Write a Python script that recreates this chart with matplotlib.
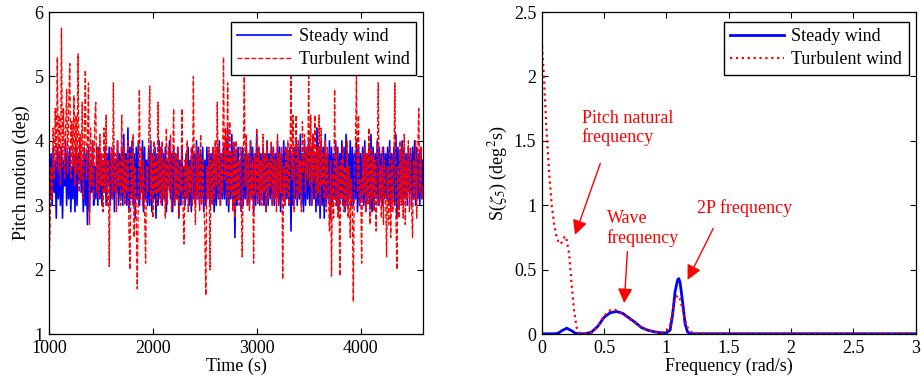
import numpy as np
import matplotlib
matplotlib.use('Agg')
import matplotlib.pyplot as plt

plt.rcParams['font.family'] = ['Liberation Serif', 'DejaVu Serif']
plt.rcParams['mathtext.fontset'] = 'stix'
plt.rcParams['font.size'] = 13

# ---- left panel: pitch motion time series (sampled every 10 s, 1000-4600 s)
t_start, t_step = 1000, 10
steady_pitch = [
    3.9, 3.1, 3.8, 3.0, 3.9, 3.2, 3.7, 2.8, 3.9, 3.1, 3.8, 3.0,
    3.9, 2.8, 3.7, 3.3, 4.0, 3.0, 3.8, 3.1, 3.9, 2.9, 3.6, 3.1,
    3.8, 2.9, 3.9, 3.0, 3.8, 3.4, 4.0, 3.2, 3.7, 2.9, 3.9, 3.0,
    3.8, 2.7, 3.9, 2.9, 3.7, 3.2, 4.0, 3.0, 3.6, 3.1, 3.9, 3.0,
    3.9, 3.1, 3.8, 3.0, 3.7, 3.2, 3.9, 3.0, 3.8, 3.3, 3.9, 3.0,
    3.8, 3.1, 3.9, 2.9, 3.7, 3.2, 4.0, 3.0, 3.8, 3.1, 3.9, 3.0,
    4.1, 3.1, 3.8, 3.0, 4.2, 2.9, 3.9, 3.1, 4.0, 3.0, 3.8, 2.8,
    3.9, 3.1, 4.0, 3.0, 3.6, 3.2, 4.0, 2.9, 3.9, 3.1, 3.7, 3.0,
    3.9, 3.0, 4.0, 2.9, 3.8, 3.1, 3.9, 2.8, 3.8, 3.0, 4.0, 3.1,
    3.9, 3.0, 3.8, 3.1, 3.9, 2.9, 3.7, 3.3, 4.0, 3.1, 3.8, 2.9,
    3.9, 3.0, 3.8, 3.1, 3.9, 2.8, 3.7, 3.0, 3.9, 3.1, 3.6, 3.0,
    3.8, 3.1, 3.9, 3.0, 3.7, 2.9, 3.9, 3.1, 3.8, 3.0, 4.0, 3.1,
    3.9, 3.0, 3.8, 3.1, 3.9, 2.9, 3.7, 3.0, 3.9, 3.1, 3.8, 3.0,
    3.8, 3.1, 3.9, 2.9, 3.8, 3.0, 3.9, 3.1, 4.0, 3.0, 3.8, 3.1,
    3.9, 3.1, 4.0, 3.0, 4.2, 2.9, 3.8, 3.1, 4.1, 3.0, 3.9, 2.5,
    3.8, 3.0, 3.9, 3.1, 3.7, 2.9, 3.9, 3.0, 3.8, 3.1, 3.9, 3.0,
    3.8, 3.0, 4.0, 3.1, 3.9, 2.9, 3.8, 3.0, 4.1, 3.1, 3.9, 3.0,
    3.8, 3.1, 3.9, 3.0, 3.8, 2.9, 4.0, 3.0, 3.8, 3.1, 3.9, 3.0,
    3.9, 3.0, 3.8, 3.1, 4.0, 3.0, 3.9, 2.9, 3.8, 3.1, 4.0, 3.0,
    3.9, 3.1, 3.8, 3.0, 3.9, 2.6, 3.8, 3.0, 3.9, 3.1, 4.0, 3.0,
    3.9, 3.1, 4.1, 3.0, 3.8, 2.9, 4.0, 3.0, 3.9, 3.1, 4.0, 3.0,
    3.9, 3.0, 4.1, 3.1, 3.8, 2.9, 4.2, 3.0, 3.9, 2.8, 4.0, 3.0,
    3.9, 2.8, 4.1, 3.0, 3.8, 3.1, 4.0, 2.8, 3.9, 3.0, 3.8, 3.1,
    4.0, 3.0, 3.9, 2.9, 3.8, 3.1, 4.0, 3.0, 3.9, 2.9, 4.1, 3.0,
    3.8, 3.1, 4.0, 3.0, 3.9, 3.0, 3.8, 3.1, 4.0, 2.9, 3.9, 3.0,
    3.8, 3.1, 3.9, 3.0, 4.0, 2.9, 3.8, 3.1, 3.9, 3.0, 4.1, 2.9,
    3.9, 3.0, 3.8, 3.1, 4.0, 3.0, 3.9, 3.1, 3.8, 3.0, 3.9, 3.1,
    3.8, 3.1, 3.9, 3.0, 4.0, 2.9, 3.8, 3.1, 3.9, 3.0, 4.1, 2.8,
    3.9, 3.0, 3.8, 3.1, 4.0, 3.0, 3.9, 3.1, 3.8, 3.0, 3.9, 3.2,
    3.8, 3.0, 3.9, 3.1, 4.0, 3.0, 3.9, 3.1, 3.8, 3.0, 3.9, 3.1,
    3.7,
]
turbulent_pitch = [
    2.1, 2.6, 3.6, 3.1, 4.2, 3.4, 4.5, 3.6, 5.3, 3.5, 4.4, 3.3,
    5.75, 3.6, 4.5, 3.4, 4.2, 4.8, 3.5, 4.6, 5.2, 3.4, 4.3, 3.6,
    4.7, 3.3, 4.4, 3.5, 5.35, 3.2, 4.1, 3.4, 4.6, 3.1, 4.0, 5.1,
    3.4, 3.9, 4.9, 2.7, 4.2, 3.3, 4.0, 3.1, 4.3, 4.6, 3.2, 3.9,
    3.1, 4.1, 3.3, 3.8, 2.9, 4.2, 3.2, 4.4, 3.0, 3.7, 2.05, 3.6,
    3.9, 3.1, 4.9, 3.2, 3.8, 2.9, 4.0, 3.3, 3.7, 3.0, 4.4, 3.2,
    3.9, 3.0, 3.7, 3.2, 4.0, 2.6, 2.0, 3.8, 3.1, 4.1, 2.5, 3.6,
    2.8, 1.7, 3.3, 4.8, 3.1, 3.9, 3.0, 3.7, 2.9, 2.1, 3.6, 3.2,
    4.0, 4.85, 3.1, 3.8, 2.8, 4.0, 3.2, 3.7, 3.0, 4.6, 3.2, 3.9,
    3.0, 4.0, 3.1, 3.7, 2.8, 4.2, 3.0, 3.9, 3.2, 4.1, 2.9, 3.6,
    4.5, 3.0, 3.8, 3.1, 3.9, 2.8, 3.6, 3.2, 4.5, 3.0, 2.4, 3.7,
    3.1, 4.0, 2.9, 3.6, 3.2, 3.9, 3.0, 5.0, 3.3, 2.7, 3.9, 3.1,
    3.8, 2.9, 4.1, 3.0, 3.7, 3.2, 2.6, 1.6, 3.6, 3.1, 3.9, 2.0,
    3.7, 3.0, 3.9, 3.1, 4.0, 3.3, 4.6, 3.1, 3.9, 3.0, 3.8, 3.2,
    5.3, 3.4, 4.2, 3.1, 4.9, 3.0, 4.3, 3.2, 3.8, 2.9, 4.0, 2.8,
    4.0, 3.1, 3.7, 3.0, 3.9, 3.2, 2.2, 3.6, 5.0, 3.3, 4.1, 3.0,
    3.8, 2.9, 4.0, 3.1, 3.7, 2.1, 3.8, 3.2, 4.2, 3.0, 3.9, 3.1,
    3.7, 3.0, 4.1, 3.2, 3.8, 2.9, 4.0, 3.1, 3.7, 3.3, 4.0, 3.0,
    3.9, 3.1, 3.7, 2.9, 4.1, 3.0, 3.8, 3.2, 3.9, 1.85, 3.6, 3.0,
    3.9, 3.2, 4.0, 3.0, 3.7, 5.0, 3.4, 4.4, 2.9, 3.8, 4.4, 3.1,
    4.0, 3.2, 3.7, 2.9, 4.3, 3.5, 4.1, 3.2, 3.9, 3.4, 5.0, 3.3,
    4.4, 3.0, 4.1, 3.4, 4.4, 3.1, 3.9, 3.2, 4.4, 3.0, 4.2, 3.3,
    3.8, 3.1, 4.0, 2.9, 3.9, 3.2, 2.6, 3.7, 1.9, 3.5, 2.8, 4.8,
    3.0, 3.9, 2.8, 3.6, 1.9, 3.7, 3.1, 3.9, 2.9, 3.6, 3.0, 4.0,
    2.8, 3.6, 2.5, 3.4, 3.0, 1.5, 3.6, 3.9, 5.0, 3.2, 4.4, 3.0,
    3.4, 2.1, 3.8, 3.2, 3.9, 2.9, 3.8, 3.0, 4.2, 2.7, 3.9, 3.1,
    3.8, 2.9, 3.7, 2.6, 3.8, 4.9, 3.0, 3.6, 2.8, 3.9, 2.7, 3.7,
    3.2, 2.2, 3.6, 2.7, 3.9, 2.5, 3.7, 2.9, 3.6, 4.9, 2.8, 2.0,
    3.6, 2.8, 4.0, 3.0, 3.9, 2.8, 4.1, 2.7, 3.7, 3.1, 4.0, 2.9,
    3.9, 3.0, 2.5, 3.7, 3.1, 4.0, 2.8, 3.8, 4.5, 3.2, 3.9, 3.1,
    3.3,
]
time_s = t_start + t_step * np.arange(len(steady_pitch))

# ---- right panel: pitch response spectra
freq_steady = [0, 0.10, 0.13, 0.16, 0.20, 0.24, 0.27, 0.30, 0.35, 0.40, 0.45,
               0.50, 0.55, 0.60, 0.65, 0.70, 0.75, 0.80, 0.85, 0.90, 0.95,
               1.00, 1.03, 1.05, 1.07, 1.09, 1.10, 1.11, 1.13, 1.15, 1.17,
               1.20, 1.5, 2.0, 3.0]
spec_steady = [0.002, 0.002, 0.005, 0.025, 0.045, 0.025, 0.006, 0.002, 0.002,
               0.015, 0.06, 0.13, 0.165, 0.175, 0.16, 0.125, 0.09, 0.05, 0.03,
               0.018, 0.01, 0.008, 0.03, 0.15, 0.33, 0.42, 0.43, 0.40, 0.25,
               0.08, 0.015, 0.002, 0.002, 0.002, 0.002]
freq_turb = [0, 0.02, 0.04, 0.06, 0.08, 0.10, 0.12, 0.14, 0.16, 0.18, 0.19,
             0.20, 0.22, 0.24, 0.26, 0.28, 0.30, 0.35, 0.40, 0.45, 0.50, 0.55,
             0.58, 0.62, 0.66, 0.70, 0.75, 0.80, 0.85, 0.90, 0.95, 1.00, 1.03,
             1.05, 1.07, 1.09, 1.11, 1.13, 1.15, 1.17, 1.20, 1.25, 1.5, 3.0]
spec_turb = [2.28, 1.95, 1.55, 1.25, 1.0, 0.85, 0.75, 0.70, 0.71, 0.75, 0.76,
             0.73, 0.62, 0.38, 0.18, 0.05, 0.01, 0.005, 0.01, 0.06, 0.14,
             0.185, 0.19, 0.175, 0.15, 0.12, 0.085, 0.05, 0.03, 0.02, 0.01,
             0.02, 0.07, 0.17, 0.27, 0.30, 0.27, 0.19, 0.11, 0.05, 0.015,
             0.005, 0.003, 0.003]

fig = plt.figure(figsize=(9.21, 3.86), dpi=100)
ax1 = fig.add_axes([0.0532, 0.1347, 0.406, 0.834])
ax2 = fig.add_axes([0.5882, 0.1347, 0.406, 0.834])

ax1.plot(time_s, steady_pitch, color='#0000ff', lw=1.2, label='Steady wind')
ax1.plot(time_s, turbulent_pitch, color='#ff0000', lw=0.95, ls='--',
         label='Turbulent wind')
ax1.set_xlim(1000, 4600)
ax1.set_ylim(1, 6)
ax1.set_xticks([1000, 2000, 3000, 4000])
ax1.set_yticks([1, 2, 3, 4, 5, 6])
ax1.set_xlabel('Time (s)', labelpad=1)
ax1.set_ylabel('Pitch motion (deg)', labelpad=3)

ax2.plot(freq_steady, spec_steady, color='#0000ff', lw=2, label='Steady wind')
ax2.plot(freq_turb, spec_turb, color='#ff0000', lw=1.6, ls=':',
         label='Turbulent wind')
ax2.set_xlim(0, 3)
ax2.set_ylim(0, 2.5)
ax2.set_xticks([0, 0.5, 1, 1.5, 2, 2.5, 3])
ax2.set_xticklabels(['0', '0.5', '1', '1.5', '2', '2.5', '3'])
ax2.set_yticks([0, 0.5, 1, 1.5, 2, 2.5])
ax2.set_yticklabels(['0', '0.5', '1', '1.5', '2', '2.5'])
ax2.set_xlabel('Frequency (rad/s)', labelpad=1)
ax2.set_ylabel(r'S($\zeta_5$) (deg$^2$s)', labelpad=3)

arrow = dict(arrowstyle='-|>', color='red', lw=1, mutation_scale=22,
             shrinkA=0, shrinkB=0)
ax2.text(0.32, 1.49, 'Pitch natural\nfrequency', color='red', fontsize=13,
         linespacing=1.1)
ax2.annotate('', xy=(0.267, 0.77), xytext=(0.47, 1.325), arrowprops=arrow)
ax2.text(0.52, 0.71, 'Wave\nfrequency', color='red', fontsize=13,
         linespacing=1.1)
ax2.annotate('', xy=(0.662, 0.24), xytext=(0.687, 0.64), arrowprops=arrow)
ax2.text(1.248, 0.94, '2P frequency', color='red', fontsize=13)
ax2.annotate('', xy=(1.17, 0.42), xytext=(1.376, 0.82), arrowprops=arrow)

for ax in (ax1, ax2):
    ax.tick_params(direction='in', top=True, right=True, length=4,
                   labelsize=13, pad=4)
    for s in ax.spines.values():
        s.set_linewidth(0.9)
    leg = ax.legend(loc='upper right', bbox_to_anchor=(0.981, 0.970),
                    borderaxespad=0, fancybox=False, framealpha=1,
                    edgecolor='black', fontsize=13, handlelength=3.0,
                    handletextpad=0.4, borderpad=0.35, labelspacing=0.35)
    leg.get_frame().set_linewidth(1.0)

fig.savefig('out.png', dpi=100)
